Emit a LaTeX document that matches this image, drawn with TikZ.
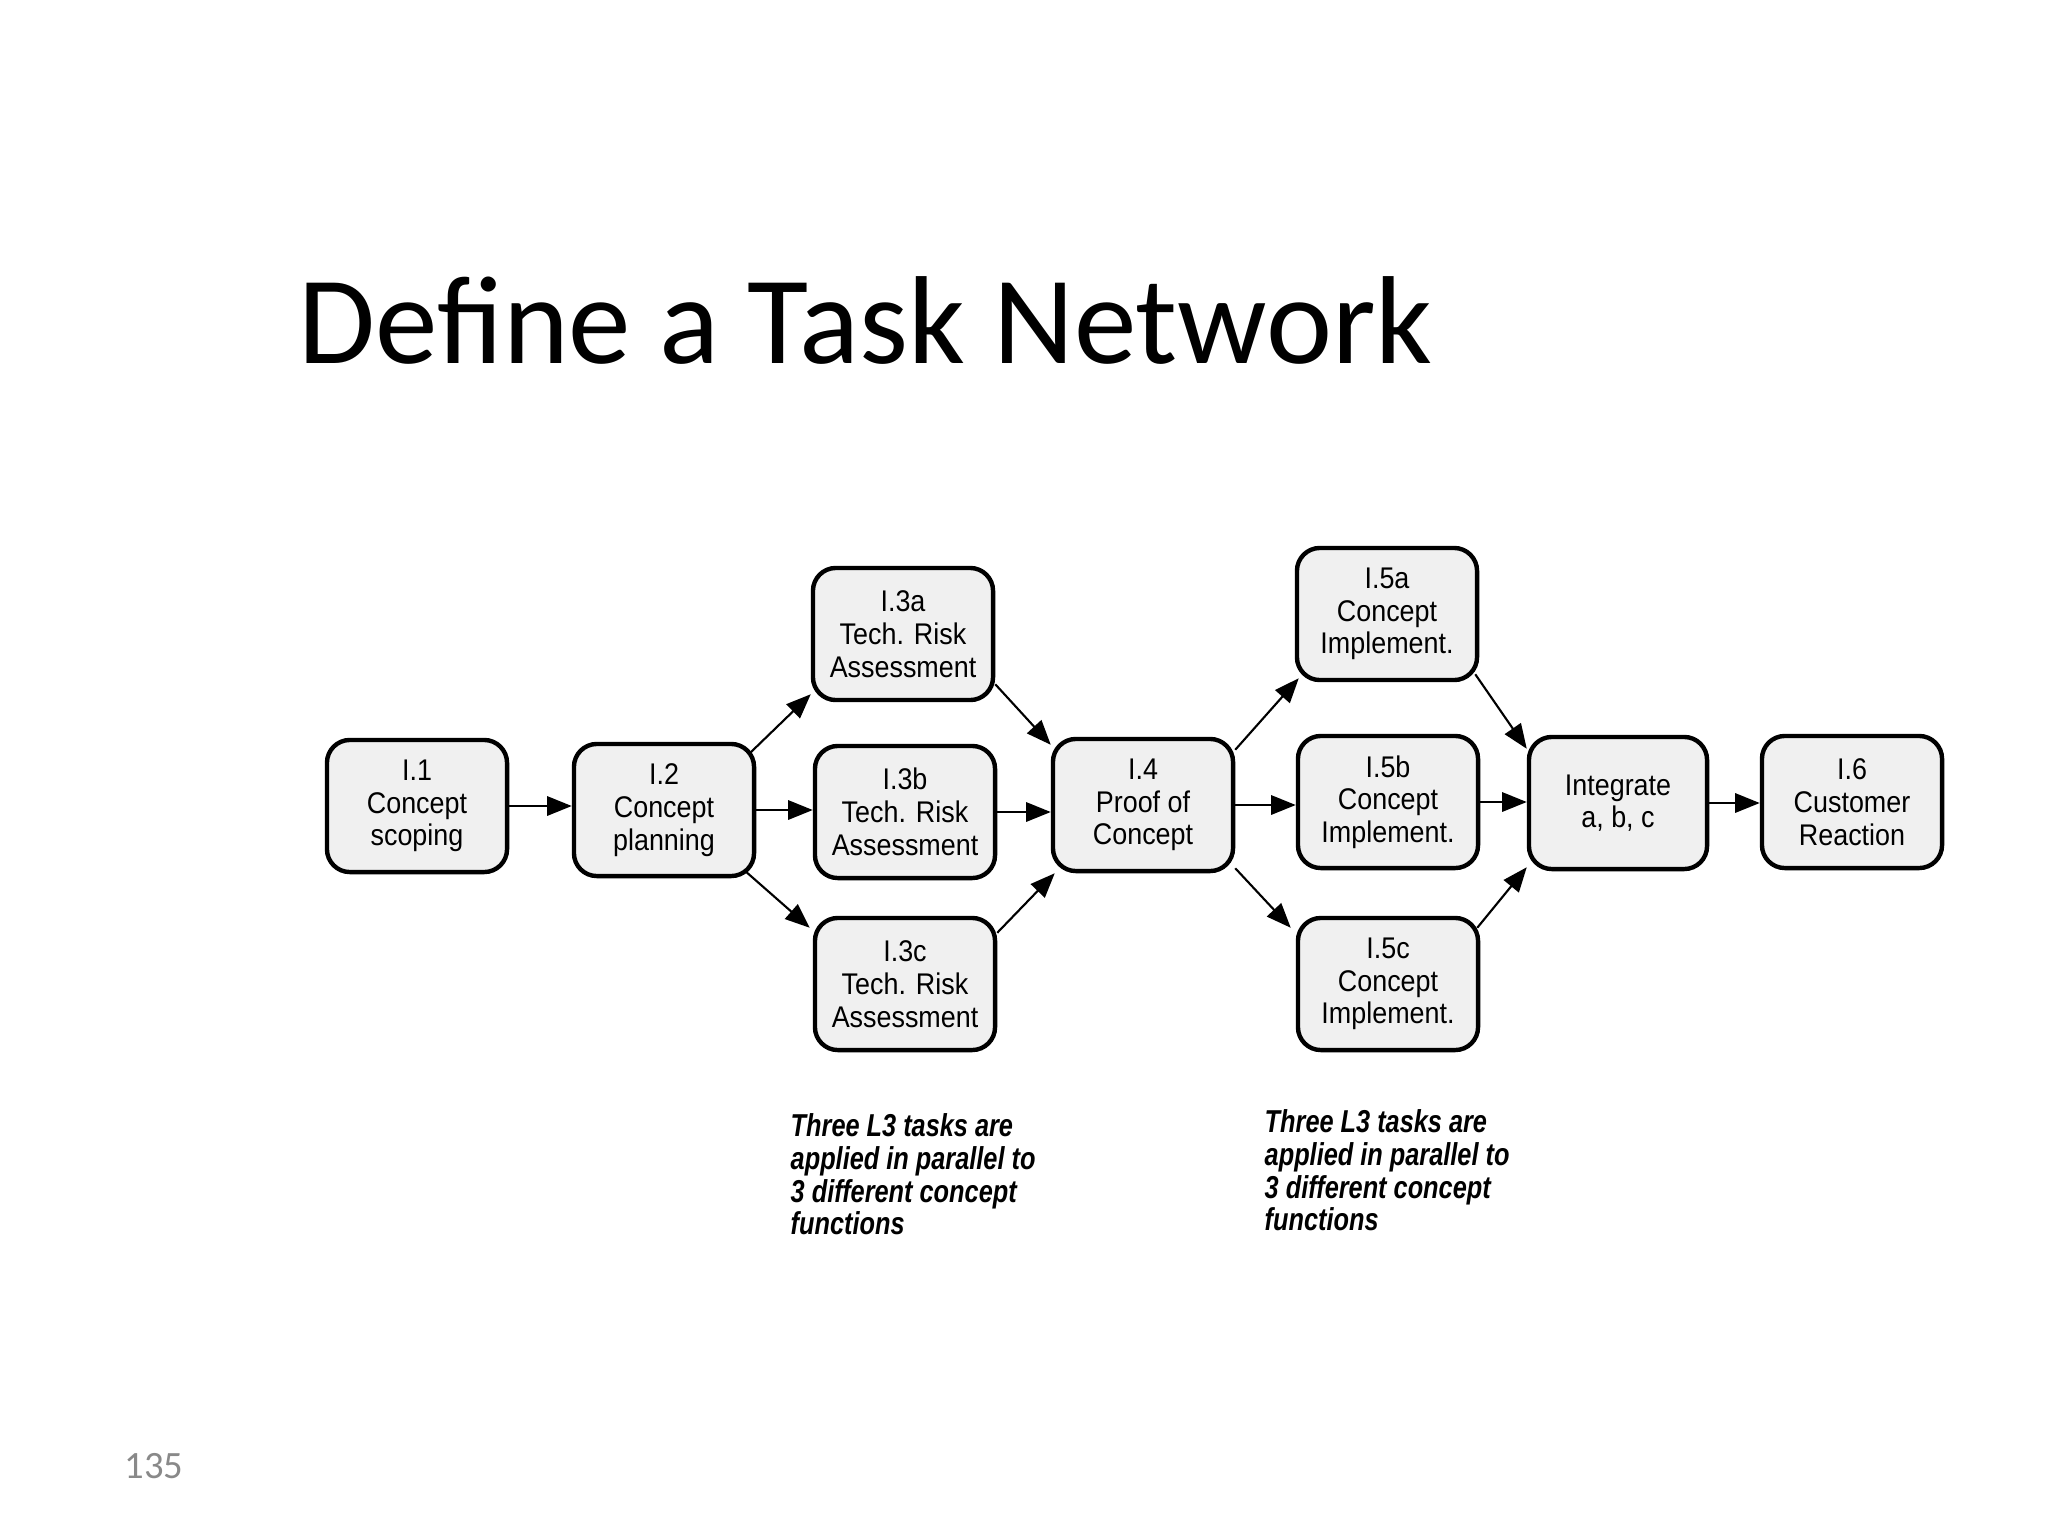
\documentclass[tikz,border=0pt]{standalone}
\usepackage{fontspec}
\setmainfont{Carlito}
\newfontfamily\taskfont[FakeStretch=0.9]{Liberation Sans}
\newfontfamily\notefont[FakeStretch=0.8]{Liberation Sans}
\usetikzlibrary{arrows.meta, calc}
\definecolor{taskfill}{HTML}{F0F0F0}
\definecolor{pagegray}{HTML}{898989}
\tikzset{
	task/.style={draw,line width=1.25pt,rounded corners=6.5pt,fill=taskfill,
		minimum width=1.8cm,minimum height=1.32cm,align=center,inner sep=1pt,
		font=\taskfont\fontsize{8.5}{9.3}\selectfont},
	link/.style={-{Triangle[length=7pt,width=5.5pt]},line width=0.6pt},
	note/.style={anchor=north west,align=left,inner sep=0pt,
		font=\notefont\bfseries\itshape\fontsize{9}{9.3}\selectfont}
}

\begin{document}
\begin{tikzpicture}[x=0.01cm,y=-0.01cm]
\useasboundingbox (0,0) rectangle (2048,1536);
\node[anchor=base west,inner sep=0pt,font=\fontsize{35.6}{40}\selectfont] (title) at (298,363) {Define a Task Network};
\node[task] (I1) at (417,806) {I.1\\Concept\\scoping};
\node[task] (I2) at (664,810) {I.2\\Concept\\planning};
\node[task] (I3a) at (903,634) {I.3a\\Tech. Risk\\Assessment};
\node[task] (I3b) at (905,812) {I.3b\\Tech. Risk\\Assessment};
\node[task] (I3c) at (905,984) {I.3c\\Tech. Risk\\Assessment};
\node[task] (I4) at (1143,805) {I.4\\Proof of\\Concept};
\node[task] (I5a) at (1387,614) {I.5a\\Concept\\Implement.};
\node[task] (I5b) at (1388,802) {I.5b\\Concept\\Implement.};
\node[task] (I5c) at (1388,984) {I.5c\\Concept\\Implement.};
\node[task,minimum width=1.78cm] (integ) at (1618,803) {Integrate\\a, b, c};
\node[task] (I6) at (1852,802) {I.6\\Customer\\Reaction};
% straight links
\draw[link] (I1.east) -- (I2.west |- I1.east);
\draw[link] (I2.east) -- (I3b.west |- I2.east);
\draw[link] (I3b.east) -- (I4.west |- I3b.east);
\draw[link] (I4.east) -- (I5b.west |- I4.east);
\draw[link] (I5b.east) -- (integ.west |- I5b.east);
\draw[link] (integ.east) -- (I6.west |- integ.east);
% fan out / fan in
\draw[link] ($(I2.north east)+(-6,11)$) -- ($(I3a.south west)+(0,-8)$);
\draw[link] ($(I2.south east)+(-12,-8)$) -- ($(I3c.north west)+(-3,12)$);
\draw[link] ($(I3a.south east)+(0,-18)$) -- ($(I4.north west)+(0,8)$);
\draw[link] ($(I3c.north east)+(0,17)$) -- ($(I4.south west)+(4,0)$);
\draw[link] ($(I4.north east)+(0,13)$) -- ($(I5a.south west)+(4,-4)$);
\draw[link] ($(I4.south east)+(0,-5)$) -- ($(I5c.north west)+(-5,12)$);
\draw[link] ($(I5a.south east)+(-4,-8)$) -- ($(integ.north west)+(0,14)$);
\draw[link] ($(I5c.north east)+(-3,12)$) -- ($(integ.south west)+(0,-4)$);
\node[note] (noteL3) at (790,1113) {Three L3 tasks are\\applied in parallel to\\3 different concept\\functions};
\node[note] (noteL5) at (1264,1109) {Three L3 tasks are\\applied in parallel to\\3 different concept\\functions};
\node[anchor=base west,inner sep=0pt,text=pagegray,font=\fontsize{11}{13}\selectfont] (pagenum) at (124,1478) {135};
\end{tikzpicture}
\end{document}
